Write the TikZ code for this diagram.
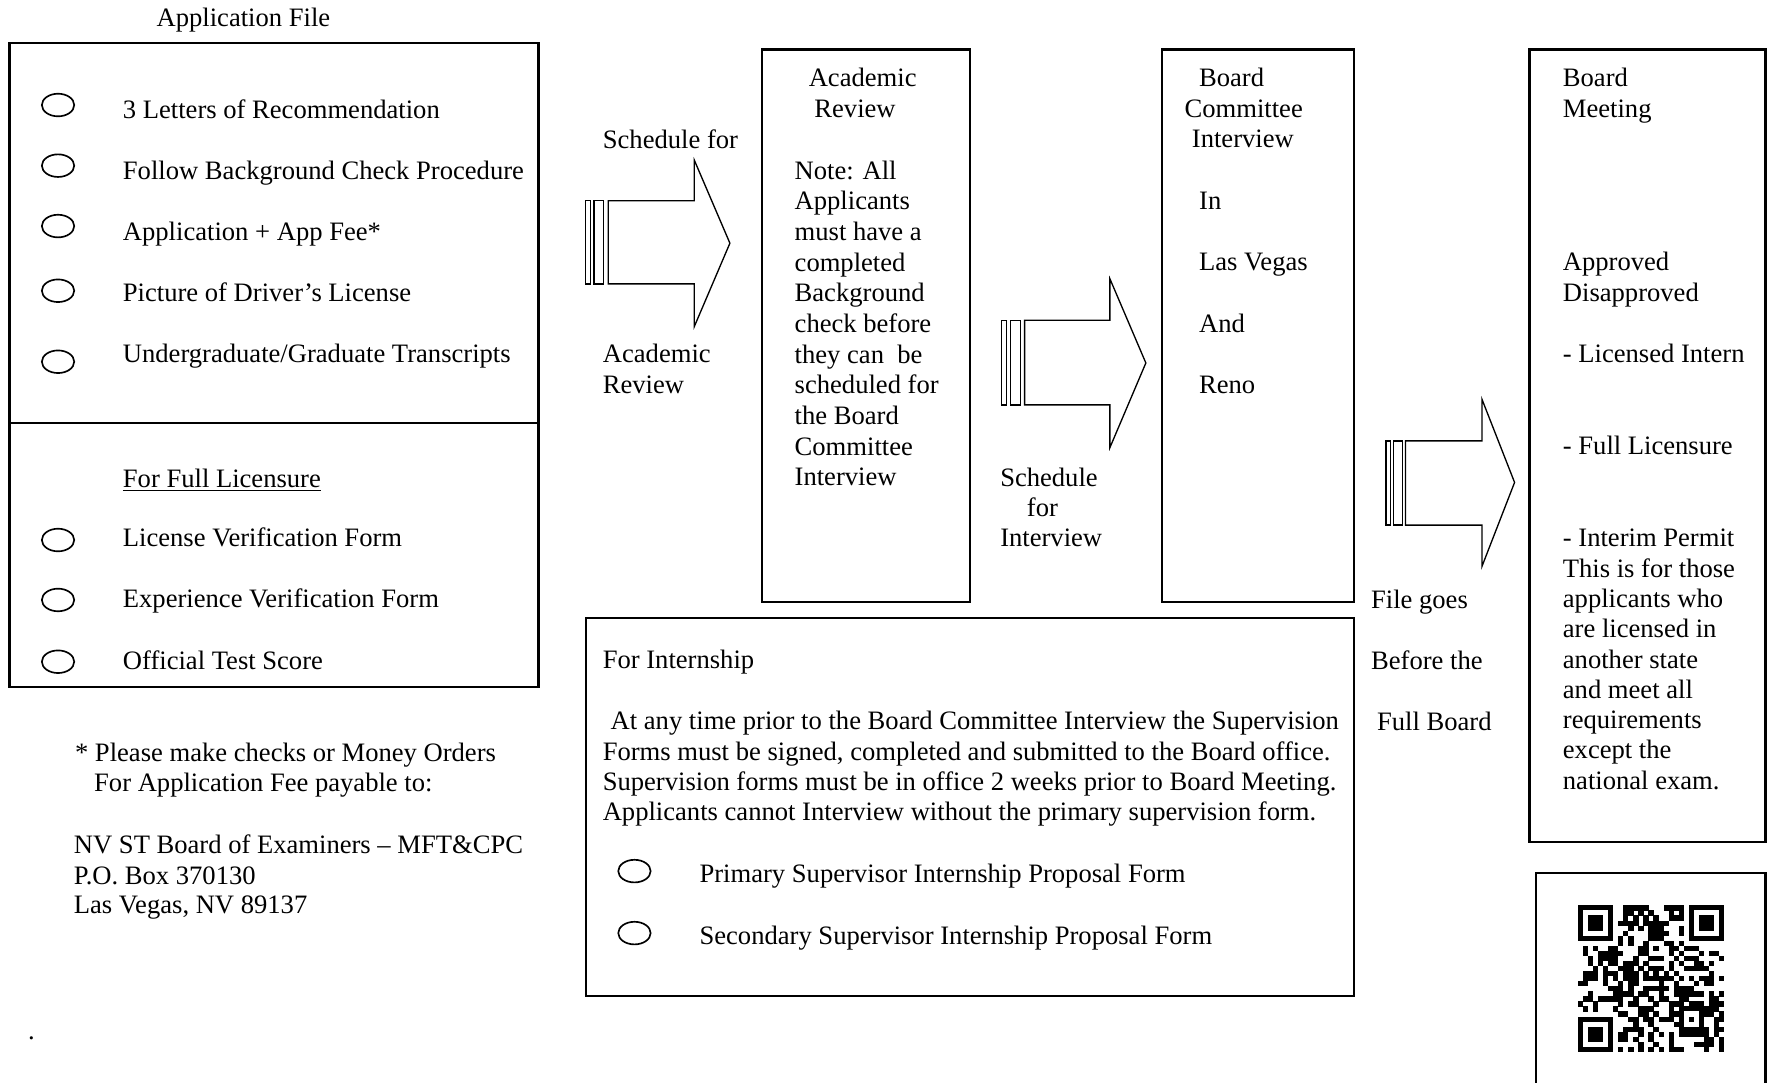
\documentclass[tikz,border=0pt]{standalone}
\usepackage{fontspec}
\setmainfont{Liberation Serif}
\usetikzlibrary{shapes.geometric}
\begin{document}
\begin{tikzpicture}[x=0.5085pt,y=-0.5085pt,
  box/.style={draw,line width=1pt},
  arr/.style={draw,line width=0.6pt,fill=white},
  bul/.style={draw,ellipse,line width=0.75pt,minimum width=14.6pt,minimum height=10.2pt,inner sep=0pt},
  txt/.style={anchor=base west,inner sep=0pt,font=\fontsize{12}{13.8}\selectfont}]
\useasboundingbox (0,0) rectangle (1568,961);
% ---------- Application file box ----------
\node[txt] (apptitle) at (138.6,23.1) {Application File};
\draw[box] (8.5,38.5) rectangle (477.8,609.3);
\draw[box] (8.5,375.1) -- (477.8,375.1);
\node[bul] (e1) at (51.5,93.2) {};
\node[bul] (e2) at (51.5,147) {};
\node[bul] (e3) at (51.5,200.6) {};
\node[bul] (e4) at (51.5,258) {};
\node[bul] (e5) at (51.5,321) {};
\node[txt] (a1) at (108.7,105) {3 Letters of Recommendation};
\node[txt] (a2) at (108.7,159.1) {Follow Background Check Procedure};
\node[txt] (a3) at (108.7,213.6) {Application + App Fee*};
\node[txt] (a4) at (108.7,267.7) {Picture of Driver’s License};
\node[txt] (a5) at (108.7,321.8) {Undergraduate/Graduate Transcripts};
\node[txt] (ffl) at (108.7,432.5) {\underline{For Full Licensure}};
\node[bul] (e6) at (51.5,479.2) {};
\node[bul] (e7) at (51.5,532.4) {};
\node[bul] (e8) at (51.5,587.2) {};
\node[txt] (f1) at (108.7,485.1) {License Verification Form};
\node[txt] (f2) at (108.7,539.2) {Experience Verification Form};
\node[txt] (f3) at (108.7,594) {Official Test Score};
% ---------- footnote ----------
\node[txt] (n1) at (66.2,675.9) {* Please make checks or Money Orders};
\node[txt] (n2) at (83.2,702.5) {For Application Fee payable to:};
\node[txt] (n3) at (65.2,757.8) {NV ST Board of Examiners – MFT\&CPC};
\node[txt] (n4) at (65.2,784.5) {P.O. Box 370130};
\node[txt] (n5) at (65.2,810.5) {Las Vegas, NV 89137};
\node[txt] (dot) at (24.5,922) {.};
% ---------- arrow 1 ----------
\node[txt] (s1) at (534.6,131.6) {Schedule for};
\node[txt] (s2) at (534.6,321.8) {Academic};
\node[txt] (s3) at (534.6,349.1) {Review};
\draw[arr] (519.3,178.2) rectangle (523.8,251.9);
\draw[arr] (527.1,178.2) rectangle (535.6,251.9);
\draw[arr] (539.7,178.2) -- (616.1,178.2) -- (616.1,142.1) -- (647.7,215.8) -- (616.1,289.8) -- (616.1,251.9) -- (539.7,251.9) -- cycle;
% ---------- academic review box ----------
\draw[box] (676,44) rectangle (861,534);
\node[txt] (ar1) at (717.3,77.2) {Academic};
\node[txt] (ar2) at (722.3,104.2) {Review};
\node[txt] (nt1) at (704.8,159) {Note: All};
\node[txt] (nt2) at (704.8,186.2) {Applicants};
\node[txt] (nt3) at (704.8,213.4) {must have a};
\node[txt] (nt4) at (704.8,240.6) {completed};
\node[txt] (nt5) at (704.8,267.8) {Background};
\node[txt] (nt6) at (704.8,295) {check before};
\node[txt] (nt7) at (704.8,322.2) {they can\ \ be};
\node[txt] (nt8) at (704.8,349.4) {scheduled for};
\node[txt] (nt9) at (704.8,376.6) {the Board};
\node[txt] (nt10) at (704.8,403.8) {Committee};
\node[txt] (nt11) at (704.8,431) {Interview};
% ---------- arrow 2 ----------
\draw[arr] (888.8,284.2) rectangle (893.2,359.3);
\draw[arr] (896.6,284.2) rectangle (905.4,359.3);
\draw[arr] (909.2,284.2) -- (984.9,284.2) -- (984.9,247.4) -- (1016.8,322.1) -- (984.9,397.2) -- (984.9,359.3) -- (909.2,359.3) -- cycle;
\node[txt] (si1) at (887.2,431.6) {Schedule};
\node[txt] (si2) at (910.9,458) {for};
\node[txt] (si3) at (887.2,485.3) {Interview};
% ---------- board committee box ----------
\draw[box] (1031,44) rectangle (1201.5,534);
\node[txt] (bc1) at (1063.7,77.2) {Board};
\node[txt] (bc2) at (1050.8,104.2) {Committee};
\node[txt] (bc3) at (1057.3,130.9) {Interview};
\node[txt] (bc4) at (1063.7,186) {In};
\node[txt] (bc5) at (1063.7,240.4) {Las Vegas};
\node[txt] (bc6) at (1063.7,294.8) {And};
\node[txt] (bc7) at (1063.7,349.1) {Reno};
% ---------- arrow 3 ----------
\draw[arr] (1229.8,391.2) rectangle (1233.9,466);
\draw[arr] (1236.6,391.2) rectangle (1244.5,466);
\draw[arr] (1247.2,391.2) -- (1315.1,391.2) -- (1315.1,354.4) -- (1344,428.1) -- (1315.1,502.5) -- (1315.1,466) -- (1247.2,466) -- cycle;
\node[txt] (fg1) at (1216.3,539.8) {File goes};
\node[txt] (fg2) at (1216.3,594) {Before the};
\node[txt] (fg3) at (1221.6,647.8) {Full Board};
% ---------- board meeting box ----------
\draw[box] (1357.2,44) rectangle (1566.6,746.9);
\node[txt] (bm1) at (1386.5,77.2) {Board};
\node[txt] (bm2) at (1386.5,104.2) {Meeting};
\node[txt] (bm3) at (1386.5,240.4) {Approved};
\node[txt] (bm4) at (1386.5,267.4) {Disapproved};
\node[txt] (bm5) at (1386.5,322.1) {- Licensed Intern};
\node[txt] (bm6) at (1386.5,403.5) {- Full Licensure};
\node[txt] (bm7) at (1386.5,485.3) {- Interim Permit};
\node[txt] (bm8) at (1386.5,512.3) {This is for those};
\node[txt] (bm9) at (1386.5,538.9) {applicants who};
\node[txt] (bm10) at (1386.5,565.6) {are licensed in};
\node[txt] (bm11) at (1386.5,593.1) {another state};
\node[txt] (bm12) at (1386.5,619.7) {and meet all};
\node[txt] (bm13) at (1386.5,646.3) {requirements};
\node[txt] (bm14) at (1386.5,673.5) {except the};
\node[txt] (bm15) at (1386.5,701) {national exam.};
% ---------- internship box ----------
\draw[box] (519.7,548.7) rectangle (1201.4,883.5);
\node[txt] (in0) at (534.5,593.5) {For Internship};
\node[txt] (in1) at (541.5,647.5) {At any time prior to the Board Committee Interview the Supervision};
\node[txt] (in2) at (534.5,674.5) {Forms must be signed, completed and submitted to the Board office.};
\node[txt] (in3) at (534.5,701.5) {Supervision forms must be in office 2 weeks prior to Board Meeting.};
\node[txt] (in4) at (534.5,728.5) {Applicants cannot Interview without the primary supervision form.};
\node[bul] (e9) at (563,773) {};
\node[bul] (e10) at (563,828) {};
\node[txt] (ip1) at (620.4,783.5) {Primary Supervisor Internship Proposal Form};
\node[txt] (ip2) at (620.4,838.5) {Secondary Supervisor Internship Proposal Form};
% ---------- QR box ----------
\draw[box] (1362.8,775) rectangle (1566.6,985);
\begin{scope}[shift={(1400,803.4)},x=2.2795pt,y=-2.2795pt]
  \pgfmathsetseed{4242}
  \foreach \i in {0,...,28}{
    \foreach \j in {0,...,28}{
      \pgfmathtruncatemacro\qr{2*rnd}
      \pgfmathtruncatemacro\qsk{ifthenelse(and(\i<8,\j<8),1,ifthenelse(and(\i>20,\j<8),1,ifthenelse(and(\i<8,\j>20),1,ifthenelse(and(and(\i>19,\i<25),and(\j>19,\j<25)),1,0))))}
      \ifnum\qsk=0
        \ifnum\qr=1
          \fill[black] (\i,\j) rectangle ++(1.05,1.05);
        \fi
      \fi
    }
  }
  \foreach \ox/\oy in {0/0,22/0,0/22}{
    \fill[black] (\ox,\oy) rectangle ++(7,7);
    \fill[white] (\ox+1,\oy+1) rectangle ++(5,5);
    \fill[black] (\ox+2,\oy+2) rectangle ++(3,3);
  }
  \fill[black] (20,20) rectangle ++(5,5);
  \fill[white] (21,21) rectangle ++(3,3);
  \fill[black] (22,22) rectangle ++(1,1);
\end{scope}
\end{tikzpicture}
\end{document}
